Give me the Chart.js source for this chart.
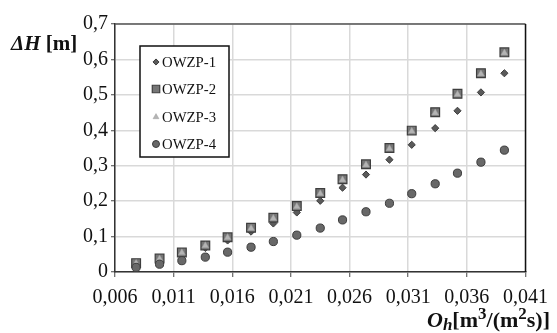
<!DOCTYPE html>
<html><head><meta charset="utf-8">
<script src="https://cdn.jsdelivr.net/npm/chart.js@4"></script>
<style>html,body{margin:0;padding:0;background:#fff}#wrap{width:557px;height:333px}</style>
</head><body><div id="wrap"><canvas id="c" width="557" height="333"></canvas></div>
<script>
// Specific flow rate O_h [m3/(m2 s)]
const qValues = [0.0078, 0.0098, 0.0117, 0.0137, 0.0156, 0.0176, 0.0195, 0.0215, 0.0235, 0.0254, 0.0274, 0.0294, 0.0313, 0.0333, 0.0352, 0.0372, 0.0392];
// Head loss ΔH [m]
const owzp1 = [0.020, 0.033, 0.049, 0.068, 0.089, 0.114, 0.137, 0.168, 0.201, 0.238, 0.275, 0.317, 0.359, 0.406, 0.455, 0.507, 0.561];
const owzp2 = [0.025, 0.038, 0.055, 0.075, 0.098, 0.125, 0.153, 0.186, 0.223, 0.262, 0.304, 0.350, 0.399, 0.451, 0.503, 0.561, 0.620];
const owzp3 = [0.024, 0.037, 0.054, 0.074, 0.097, 0.123, 0.151, 0.184, 0.221, 0.260, 0.302, 0.348, 0.397, 0.449, 0.501, 0.559, 0.618];
const owzp4 = [0.013, 0.022, 0.032, 0.042, 0.056, 0.070, 0.086, 0.104, 0.124, 0.147, 0.170, 0.194, 0.221, 0.249, 0.279, 0.310, 0.344];
const seriesNames = ['OWZP-1', 'OWZP-2', 'OWZP-3', 'OWZP-4'];
const xTicks = [0.006, 0.011, 0.016, 0.021, 0.026, 0.031, 0.036, 0.041];
const yTicks = [0, 0.1, 0.2, 0.3, 0.4, 0.5, 0.6, 0.7];

const FONT = "'Liberation Serif', 'Times New Roman', serif";
const toPts = ys => qValues.map((x, i) => ({x: x, y: ys[i]}));
const fmt = (v, d) => v === 0 ? '0' : v.toFixed(d).replace('.', ',');

const styles = [
  {pointStyle: 'rectRot', radius: 3.6, bg: '#5a5a5a', border: '#3c3c3c', bw: 1, order: 4},
  {pointStyle: 'rect', radius: 6.2, bg: '#767676', border: '#3e3e3e', bw: 1.2, order: 3},
  {pointStyle: 'triangle', radius: 4.0, bg: '#b4b4b4', border: '#a0a0a0', bw: 0.5, order: 2},
  {pointStyle: 'circle', radius: 4.1, bg: '#686868', border: '#3c3c3c', bw: 1, order: 1}
];
const series = [owzp1, owzp2, owzp3, owzp4];

const datasets = series.map((ys, i) => ({
  label: seriesNames[i],
  data: toPts(ys),
  showLine: false,
  pointStyle: styles[i].pointStyle,
  pointRadius: styles[i].radius,
  pointHoverRadius: styles[i].radius,
  backgroundColor: styles[i].bg,
  borderColor: styles[i].border,
  pointBorderWidth: styles[i].bw,
  order: styles[i].order
}));

function drawMarker(ctx, st, x, y, k) {
  ctx.save();
  ctx.fillStyle = st.bg; ctx.strokeStyle = st.border; ctx.lineWidth = st.bw;
  const r = st.radius * k;
  ctx.beginPath();
  if (st.pointStyle === 'circle') ctx.arc(x, y, r, 0, Math.PI * 2);
  else if (st.pointStyle === 'rect') { const s = r * Math.SQRT1_2; ctx.rect(x - s, y - s, 2 * s, 2 * s); }
  else if (st.pointStyle === 'rectRot') { ctx.moveTo(x, y - r); ctx.lineTo(x + r, y); ctx.lineTo(x, y + r); ctx.lineTo(x - r, y); ctx.closePath(); }
  else if (st.pointStyle === 'triangle') { ctx.moveTo(x, y - r); ctx.lineTo(x + r * 0.866, y + r / 2); ctx.lineTo(x - r * 0.866, y + r / 2); ctx.closePath(); }
  ctx.fill(); if (st.bw) ctx.stroke();
  ctx.restore();
}

const framePlugin = {
  id: 'frame',
  beforeDatasetsDraw(chart) {
    const {ctx, chartArea: a} = chart;
    ctx.save();
    ctx.lineWidth = 1.5;
    ctx.strokeStyle = '#555';
    ctx.beginPath(); ctx.moveTo(a.left, a.top); ctx.lineTo(a.right, a.top); ctx.stroke();
    ctx.strokeStyle = '#111';
    ctx.beginPath(); ctx.moveTo(a.right, a.top); ctx.lineTo(a.right, a.bottom); ctx.stroke();
    ctx.restore();
  }
};

function drawRich(ctx, parts, x, baseline) {
  let cx = x;
  parts.forEach(p => {
    ctx.font = p.font;
    ctx.fillText(p.t, cx, baseline + (p.dy || 0));
    cx += ctx.measureText(p.t).width + (p.gap || 0);
  });
  return cx - x;
}
function richWidth(ctx, parts) {
  let w = 0;
  parts.forEach(p => { ctx.font = p.font; w += ctx.measureText(p.t).width + (p.gap || 0); });
  return w;
}

const annPlugin = {
  id: 'ann',
  afterDraw(chart) {
    const ctx = chart.ctx;
    ctx.save();
    ctx.fillStyle = '#111';
    ctx.textBaseline = 'alphabetic';
    ctx.textAlign = 'left';
    // y axis title
    drawRich(ctx, [
      {t: 'ΔH', font: `italic bold 21px ${FONT}`},
      {t: ' [m]', font: `bold 21px ${FONT}`}
    ], 11, 50);
    // x axis title
    const xp = [
      {t: 'O', font: `italic bold 22px ${FONT}`},
      {t: 'h', font: `italic bold 17px ${FONT}`, dy: 3},
      {t: '[m', font: `bold 22px ${FONT}`},
      {t: '3', font: `bold 17px ${FONT}`, dy: -8},
      {t: '/(m', font: `bold 22px ${FONT}`},
      {t: '2', font: `bold 17px ${FONT}`, dy: -8},
      {t: 's)]', font: `bold 22px ${FONT}`}
    ];
    const w = richWidth(ctx, xp);
    drawRich(ctx, xp, 550 - w, 327);

    // legend box
    const L = 140, T = 46, R = 229, B = 157;
    ctx.fillStyle = '#fff';
    ctx.fillRect(L, T, R - L, B - T);
    ctx.lineWidth = 1.5; ctx.strokeStyle = '#111';
    ctx.strokeRect(L, T, R - L, B - T);
    const ys = [62, 89, 117, 144];
    ctx.font = `15px ${FONT}`;
    ctx.textBaseline = 'middle';
    chart.data.datasets.forEach((ds, i) => {
      drawMarker(ctx, styles[i], 156, ys[i], 0.85);
      ctx.fillStyle = '#111';
      const tw = ctx.measureText(ds.label).width;
      const sx = Math.min(1, 54 / tw);
      ctx.save();
      ctx.translate(162, ys[i] + 1);
      ctx.scale(sx, 1);
      ctx.fillText(ds.label, 0, 0);
      ctx.restore();
    });
    ctx.restore();
  }
};

new Chart(document.getElementById('c'), {
  type: 'scatter',
  data: {datasets},
  options: {
    responsive: false,
    devicePixelRatio: 1,
    animation: false,
    layout: {padding: {left: 0, right: 30, top: 24, bottom: 0}},
    plugins: {legend: {display: false}, tooltip: {enabled: false}},
    scales: {
      x: {
        type: 'linear', min: xTicks[0], max: xTicks[xTicks.length - 1],
        afterBuildTicks: s => { s.ticks = xTicks.map(v => ({value: v})); },
        afterFit: s => { s.height = 61; },
        grid: {color: '#d9d9d9', lineWidth: 1.5, tickLength: 5, tickColor: '#444', tickWidth: 1},
        border: {display: true, color: '#333', width: 1.5},
        ticks: {color: '#111', padding: 9, maxRotation: 0, autoSkip: false,
          font: {family: FONT, size: 20},
          callback: v => fmt(v, 3)}
      },
      y: {
        type: 'linear', min: yTicks[0], max: yTicks[yTicks.length - 1],
        afterBuildTicks: s => { s.ticks = yTicks.map(v => ({value: v})); },
        afterFit: s => { s.width = 115; },
        grid: {color: '#d9d9d9', lineWidth: 1.5, tickLength: 4, tickColor: '#444', tickWidth: 1},
        border: {display: true, color: '#333', width: 1.5},
        ticks: {color: '#111', padding: 3, autoSkip: false,
          font: {family: FONT, size: 20},
          callback: v => fmt(v, 1)}
      }
    }
  },
  plugins: [framePlugin, annPlugin]
});
</script>
</body></html>
